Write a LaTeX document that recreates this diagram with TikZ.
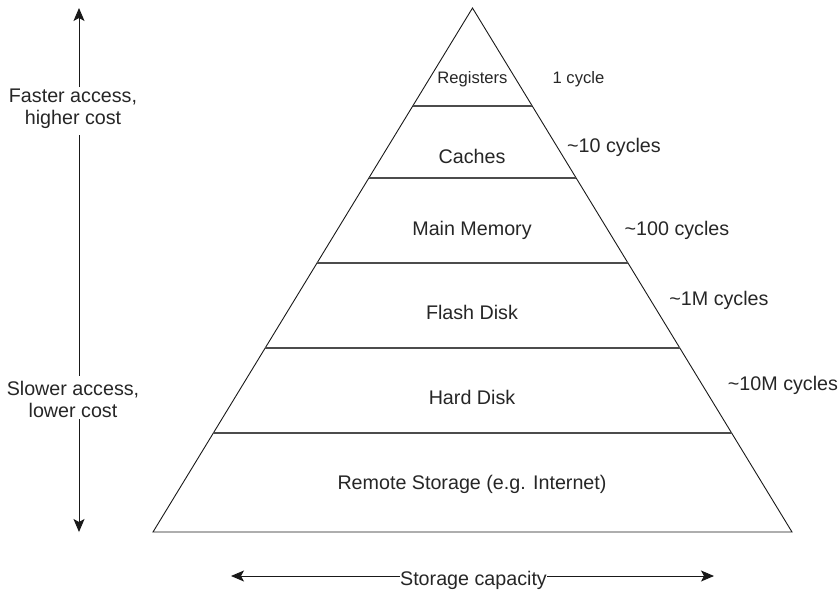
\documentclass[tikz,border=0pt]{standalone}
\usepackage{fontspec}
\setmainfont{Liberation Sans}
\usetikzlibrary{calc,arrows.meta}
\begin{document}
\begin{tikzpicture}[x=1pt,y=-1pt,
  edge/.style={line width=0.9pt,black!90},
  layer/.style={line width=1.4pt,black!70},
  lbl/.style={font=\fontsize{19.7}{22}\selectfont,text=black!85,inner sep=0pt,anchor=base},
  small/.style={font=\fontsize{16.6}{19}\selectfont,text=black!85,inner sep=0pt,anchor=base},
  side/.style={font=\fontsize{19.7}{22}\selectfont,text=black!85,align=center,inner sep=0pt},
  axis/.style={line width=0.9pt,black!90},
  tip/.style={-{Stealth[length=13pt,width=11pt,inset=3pt]}}]
\useasboundingbox (0,0) rectangle (839,590);

% pyramid outline
\coordinate (apex) at (472.5,8);
\coordinate (bl) at (153,532);
\coordinate (br) at (792,532);
\draw[edge,line join=miter] (bl) -- (apex) -- (br) -- cycle;

% layer boundaries
\foreach \t/\n in {0.1870/a,0.3244/b,0.4866/c,0.6489/d,0.8111/e}{
  \draw[layer] ($(apex)!\t!(bl)$) coordinate (L\n) -- ($(apex)!\t!(br)$) coordinate (R\n);
}

% layer names
\node[small] (reg) at (472.5,83) {Registers};
\node[lbl] (cache) at (472,163) {Caches};
\node[lbl] (mem) at (472,235) {Main Memory};
\node[lbl] (flash) at (472,319) {Flash Disk};
\node[lbl] (hdd) at (472,404) {Hard Disk};
\node[lbl] (remote) at (472,489) {Remote Storage (e.g. Internet)};

% access latencies
\node[small] (c1) at (578.5,83) {1 cycle};
\node[lbl] (c10) at (614,152) {\char`~10 cycles};
\node[lbl] (c100) at (677,235) {\char`~100 cycles};
\node[lbl] (c1m) at (719,305) {\char`~1M cycles};
\node[lbl] (c10m) at (783,390) {\char`~10M cycles};

% vertical cost/speed axis
\coordinate (vtop) at (79,8);
\coordinate (vbot) at (79,532);
\coordinate (fastTop) at (79,87);
\coordinate (fastBot) at (79,135);
\coordinate (slowTop) at (79,376);
\coordinate (slowBot) at (79,419);
\node[side,anchor=base] (fast) at (73,124) {Faster access,\\higher cost};
\node[side,anchor=base] (slow) at (73,417) {Slower access,\\lower cost};
\draw[axis,tip] (fastTop) -- (vtop);
\draw[axis] (fastBot) -- (slowTop);
\draw[axis,tip] (slowBot) -- (vbot);

% horizontal capacity axis
\coordinate (hl) at (231,576);
\coordinate (hr) at (714,576);
\node[lbl] (cap) at (473.5,585) {Storage capacity};
\draw[axis,tip] (cap.west |- hl) -- (hl);
\draw[axis,tip] (cap.east |- hr) -- (hr);
\end{tikzpicture}
\end{document}
